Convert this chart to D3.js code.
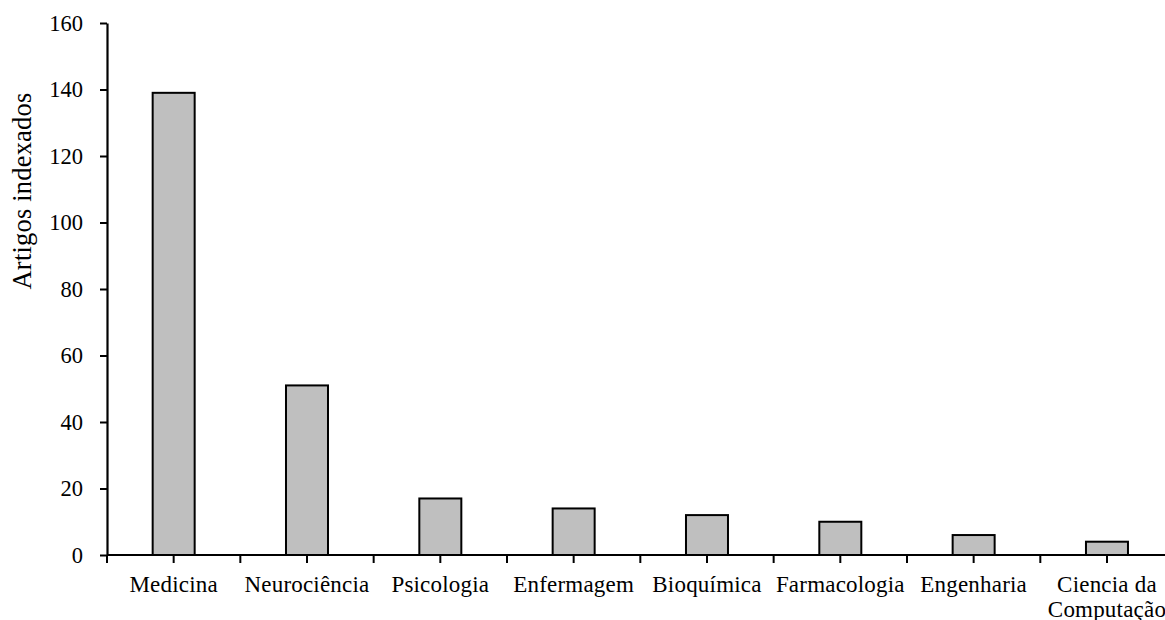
<html>
<head>
<meta charset="utf-8">
<style>
  body { margin: 0; background: #fff; }
  text { font-family: "Liberation Serif", "Times New Roman", serif; fill: #000; }
</style>
</head>
<body>
<svg id="chart"></svg>
<script src="https://cdnjs.cloudflare.com/ajax/libs/d3/7.8.5/d3.min.js"></script>
<script>
    const categories = ["Medicina", "Neurociência", "Psicologia", "Enfermagem", "Bioquímica", "Farmacologia", "Engenharia", "Ciencia da|Computação"];
    const values = [139, 51, 17, 14, 12, 10, 6, 4];
    const yTicks = [0, 20, 40, 60, 80, 100, 120, 140, 160];
    const yTitle = "Artigos indexados";

    const width = 1165, height = 620;
    const marginLeft = 107, plotTop = 23, plotBottom = 555;
    const band = 133.33;

    const svg = d3.select('#chart')
        .attr('width', width)
        .attr('height', height);

    const x = d3.scaleBand()
        .domain(categories)
        .range([marginLeft, marginLeft + band * categories.length])
        .paddingInner(0.685)
        .paddingOuter(0.685 / 2);

    const y = d3.scaleLinear().domain([0, 160]).range([plotBottom, plotTop]);

    // bars
    svg.append('g')
        .selectAll('rect')
        .data(values)
        .enter().append('rect')
        .attr('x', (d, i) => x(categories[i]))
        .attr('width', x.bandwidth())
        .attr('y', d => y(d))
        .attr('height', d => y(0) - y(d))
        .attr('fill', '#bfbfbf')
        .attr('stroke', '#000')
        .attr('stroke-width', 2);

    // y axis
    const yAxis = svg.append('g')
        .attr('transform', `translate(${marginLeft},0)`)
        .call(d3.axisLeft(y).tickValues(yTicks).tickSize(7).tickPadding(17).tickSizeOuter(0));
    yAxis.select('.domain').attr('stroke-width', 2.2);
    yAxis.selectAll('.tick line').attr('stroke-width', 2);
    yAxis.selectAll('text').attr('font-size', 22.5).attr('font-family', 'Liberation Serif').attr('fill', '#000');

    // x axis: ticks between categories and at centres
    const xLine = svg.append('g');
    xLine.append('line')
        .attr('x1', marginLeft).attr('x2', width)
        .attr('y1', plotBottom).attr('y2', plotBottom)
        .attr('stroke', '#000').attr('stroke-width', 2.2);
    const half = d3.range(0, categories.length * 2 + 1).map(k => marginLeft + k * band / 2);
    xLine.selectAll('line.tk')
        .data(half)
        .enter().append('line')
        .attr('class', 'tk')
        .attr('x1', d => d).attr('x2', d => d)
        .attr('y1', plotBottom).attr('y2', plotBottom + 8)
        .attr('stroke', '#000').attr('stroke-width', 2);

    // category labels
    const labels = svg.append('g');
    categories.forEach(c => {
        const cx = x(c) + x.bandwidth() / 2;
        const lines = c.split('|');
        const t = labels.append('text')
            .attr('text-anchor', 'middle')
            .attr('font-size', 23)
            .attr('letter-spacing', 0.2);
        lines.forEach((l, j) => {
            t.append('tspan').attr('x', cx).attr('y', 592 + j * 25).text(l);
        });
    });

    // y title
    svg.append('text')
        .attr('transform', `translate(31,${(plotTop + plotBottom) / 2 - 98}) rotate(-90)`)
        .attr('text-anchor', 'middle')
        .attr('font-size', 26.5)
        .attr('letter-spacing', 0.2)
        .text(yTitle);
</script>
</body>
</html>
